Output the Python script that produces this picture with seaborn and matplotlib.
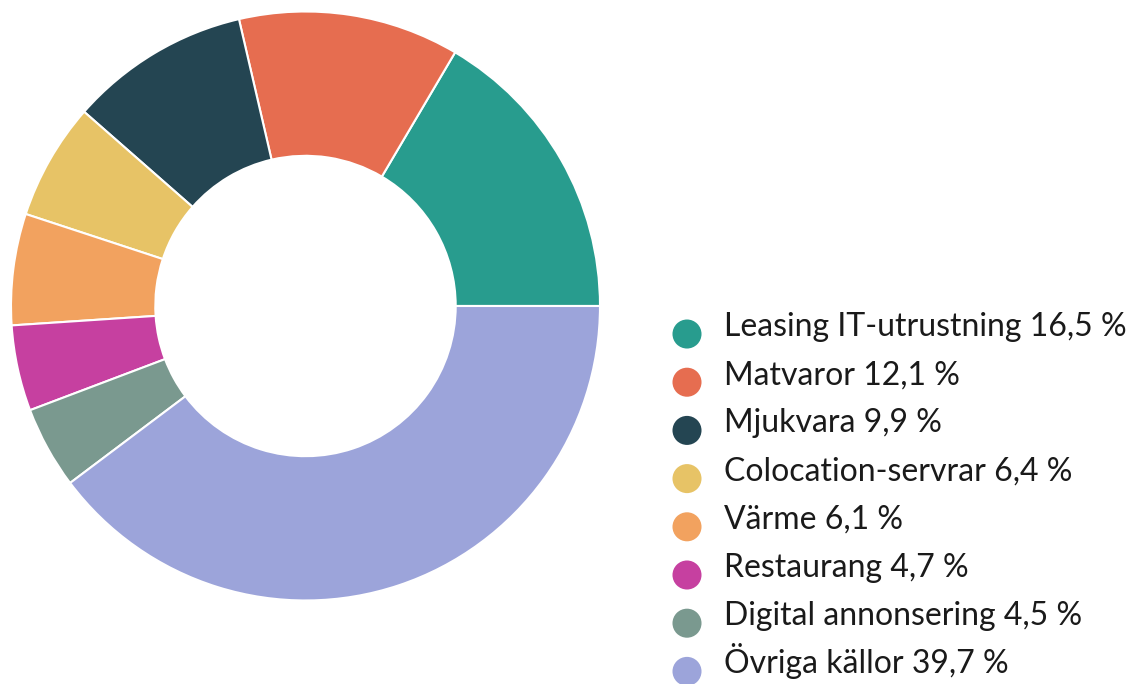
import matplotlib

matplotlib.use("Agg")

import matplotlib.pyplot as plt
import numpy as np
import seaborn as sns

categories = [
    "Leasing IT-utrustning",
    "Matvaror",
    "Mjukvara",
    "Colocation-servrar",
    "Värme",
    "Restaurang",
    "Digital annonsering",
    "Övriga källor",
]
shares = [16.5, 12.1, 9.9, 6.4, 6.1, 4.7, 4.5, 39.7]
colors = [
    "#289c8e",
    "#e66d50",
    "#244552",
    "#e7c366",
    "#f2a25f",
    "#c640a0",
    "#7a998f",
    "#9ca4da",
]

sns.set_theme(style="white")
plt.rcParams["font.family"] = ["Lato", "DejaVu Sans"]

fig = plt.figure(figsize=(11.34, 6.84), dpi=100)
ax = fig.add_axes([0.0097, 0.1221, 0.5194, 0.8611])

wedges, _ = ax.pie(
    shares,
    colors=colors,
    startangle=0,
    counterclock=True,
    radius=1.0,
    wedgeprops={"width": 0.49, "edgecolor": "white", "linewidth": 1.5},
)
for w in wedges:
    w.set_clip_on(False)
ax.set_xlim(-1, 1)
ax.set_ylim(-1, 1)
ax.set_aspect("equal")
ax.axis("off")

# legend drawn by hand: one row per category, row index on the y axis
labels = [f"{c} {str(v).replace('.', ',')} %" for c, v in zip(categories, shares)]
rows = np.arange(len(categories))
lax = fig.add_axes([660 / 1134, -0.0168, 474 / 1134, 0.5637])
lax.set_xlim(0, 474)
lax.set_ylim(len(categories) - 0.5, -0.5)
lax.axis("off")
lax.scatter(np.full(len(rows), 27), rows, s=437, c=colors, linewidths=0, clip_on=False)
for r, lab in zip(rows, labels):
    lax.text(64, r + 0.04, lab, fontsize=23, color="#1a1a1a", va="baseline",
             ha="left", clip_on=False)

fig.savefig("out.png", dpi=100)
plt.close(fig)
